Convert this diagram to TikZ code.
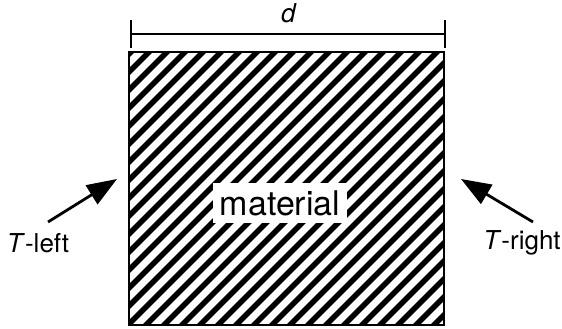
\documentclass[tikz,border=0pt]{standalone}
\usepackage{fontspec}
\setmainfont{TeX Gyre Heros}
\usetikzlibrary{arrows.meta}
\begin{document}
\begin{tikzpicture}[x=1pt,y=1pt,
  hatchline/.style={line width=5.5pt},
  border/.style={line width=1.6pt},
  dimline/.style={line width=1.8pt},
  bigarrow/.style={line width=2.8pt,-{Triangle[length=30pt,width=22pt]}},
  lbl/.style={inner sep=0pt,font=\fontsize{26}{30}\selectfont},
  matlbl/.style={fill=white,inner sep=0pt,minimum width=134pt,minimum height=40pt,font=\fontsize{34}{38}\selectfont}]
\useasboundingbox (0,0) rectangle (562,329);
% material block
\coordinate (bl) at (129,4);
\coordinate (tr) at (444,277);
\begin{scope}
  \clip (bl) rectangle (tr);
  \foreach \i in {-300,-282,...,460} {
    \draw[hatchline] (\i,-10) -- ++(310,310);
  }
\end{scope}
\draw[border] (bl) rectangle (tr);
\node[matlbl] (mat) at (280,126) {material};
% dimension
\coordinate (dl) at (131,295);
\coordinate (dr) at (445,295);
\draw[dimline] (dl) -- (dr);
\draw[dimline] ([yshift=-14pt]dl) -- ([yshift=14pt]dl);
\draw[dimline] ([yshift=-14pt]dr) -- ([yshift=14pt]dr);
\node[lbl] (d) at (289,316) {\textit{d}};
% left arrow
\coordinate (ltail) at (48,107);
\coordinate (ltip) at (117,150);
\draw[bigarrow] (ltail) -- (ltip);
\node[lbl] (tl) at (38,86) {\textit{T}-left};
% right arrow
\coordinate (rtail) at (533,107);
\coordinate (rtip) at (461,150);
\draw[bigarrow] (rtail) -- (rtip);
\node[lbl] (trt) at (522,86) {\textit{T}-right};
\end{tikzpicture}
\end{document}
